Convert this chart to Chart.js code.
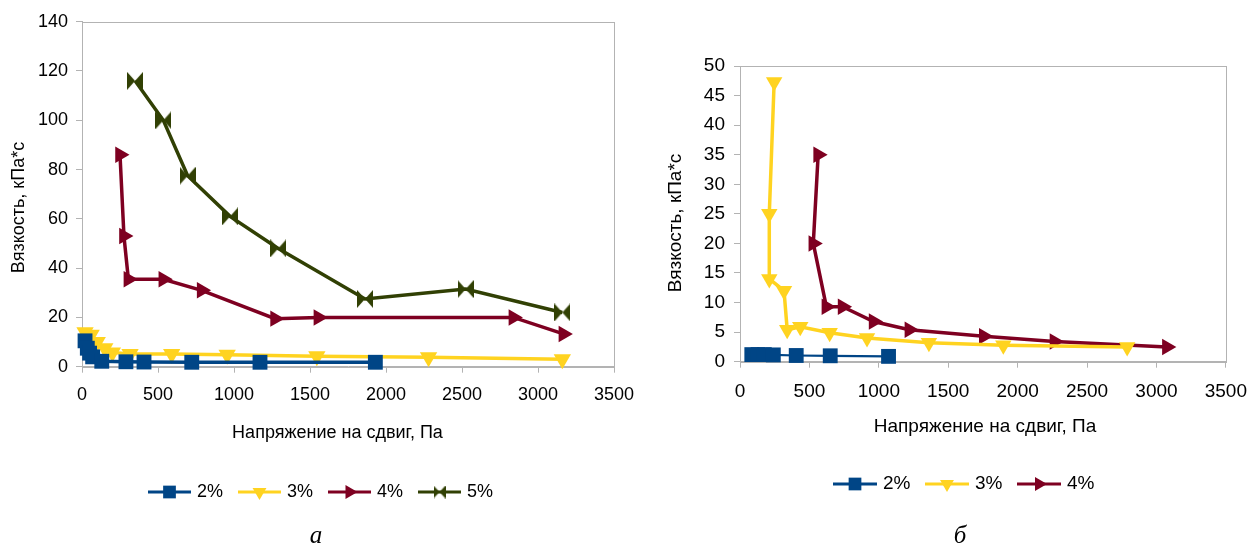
<!DOCTYPE html>
<html><head><meta charset="utf-8">
<script src="https://cdn.jsdelivr.net/npm/chart.js@4.4.1/dist/chart.umd.min.js"></script>
<style>
html,body{margin:0;padding:0;background:#fff;}
#wrap{position:relative;width:1260px;height:544px;overflow:hidden;background:#fff;}
canvas{position:absolute;top:0;}
</style></head><body>
<div id="wrap">
<canvas id="ca" width="650" height="544" style="left:0"></canvas>
<canvas id="cb" width="610" height="544" style="left:650px"></canvas>
</div>
<script>
// ---------- data ----------
const seriesLabels = ['2%', '3%', '4%', '5%'];
const xTickValues = [0, 500, 1000, 1500, 2000, 2500, 3000, 3500];
const yTickValuesA = [0, 20, 40, 60, 80, 100, 120, 140];
const yTickValuesB = [0, 5, 10, 15, 20, 25, 30, 35, 40, 45, 50];
const xTitle = 'Напряжение на сдвиг, Па';
const yTitle = 'Вязкость, кПа*с';
const captionA = 'а';
const captionB = 'б';

// chart а
const a2x = [20, 35, 50, 70, 130, 289, 408, 722, 1171, 1930];
const a2y = [10.5, 7.5, 5.5, 4.0, 2.2, 2.0, 1.9, 1.8, 1.8, 1.8];
const a3x = [20, 60, 100, 150, 200, 316, 590, 955, 1545, 2280, 3160];
const a3y = [14, 13, 10, 7.5, 5.8, 5.2, 5.2, 4.8, 4.2, 3.8, 3.0];
const a4x = [250, 276, 305, 535, 787, 1270, 1555, 2838, 3167];
const a4y = [86, 53, 35.5, 35.5, 31, 19.5, 20, 20, 13.3];
const a5x = [349, 535, 695, 974, 1291, 1862, 2524, 3160];
const a5y = [116, 100, 77.5, 61, 48, 27.5, 31.5, 22];

// chart б
const b2x = [85, 130, 175, 240, 405, 650, 1070];
const b2y = [1.2, 1.2, 1.2, 1.15, 1.05, 1.0, 0.9];
const b3x = [246, 211, 211, 317, 340, 434, 646, 915, 1361, 1897, 2789];
const b3y = [47.3, 25, 14, 12, 5.4, 5.9, 4.9, 4.0, 3.2, 2.8, 2.5];
const b4x = [563, 528, 622, 739, 962, 1220, 1756, 2265, 3075];
const b4y = [35, 20, 9.3, 9.3, 6.8, 5.4, 4.3, 3.4, 2.5];

// ---------- styles ----------
const COLORS = ['#004586', '#ffd320', '#7e0021', '#314004'];
const AXIS = '#b3b3b3';
const FONT = '"Liberation Sans", Arial, sans-serif';

function pts(xs, ys) { return xs.map((x, i) => ({ x: x, y: ys[i] })); }

function bowtie(color, w, h) {
  const c = document.createElement('canvas');
  c.width = w; c.height = h;
  const g = c.getContext('2d');
  g.fillStyle = color;
  g.beginPath();
  g.moveTo(0, 0); g.lineTo(w / 2, h / 2); g.lineTo(0, h); g.closePath();
  g.moveTo(w, 0); g.lineTo(w / 2, h / 2); g.lineTo(w, h); g.closePath();
  g.fill();
  return c;
}

const markerDefs = [
  { style: 'rect', rotation: 0, r: 10.5, lr: 9 },
  { style: 'triangle', rotation: 180, r: 10, lr: 8 },
  { style: 'triangle', rotation: 90, r: 9.5, lr: 8 },
  { style: 'bowtie', rotation: 0, r: 9, lr: 7 }
];

function makeDataset(i, xs, ys, lw, scale) {
  const m = markerDefs[i];
  const ps = m.style === 'bowtie' ? bowtie(COLORS[i], 16, 18) : m.style;
  return {
    label: seriesLabels[i],
    data: pts(xs, ys),
    showLine: true,
    borderColor: COLORS[i],
    backgroundColor: COLORS[i],
    borderWidth: lw,
    tension: 0,
    pointStyle: ps,
    pointRotation: m.rotation,
    pointRadius: m.r * scale,
    pointBorderWidth: 0,
    pointBackgroundColor: COLORS[i],
    pointBorderColor: COLORS[i],
    clip: false
  };
}

// plot frame
const framePlugin = {
  id: 'frame',
  beforeDatasetsDraw(chart) {
    const a = chart.chartArea, ctx = chart.ctx;
    ctx.save();
    ctx.strokeStyle = AXIS; ctx.lineWidth = 1;
    ctx.strokeRect(Math.round(a.left) + 0.5, Math.round(a.top) + 0.5,
      Math.round(a.right - a.left), Math.round(a.bottom - a.top));
    ctx.restore();
  }
};

// titles, legend, caption
const decorPlugin = {
  id: 'decor',
  afterDraw(chart, args, o) {
    const ctx = chart.ctx;
    ctx.save();
    ctx.fillStyle = '#000';
    ctx.font = o.fontSize + 'px ' + FONT;
    ctx.textAlign = 'center';
    ctx.textBaseline = 'middle';
    ctx.fillText(xTitle, o.xTitle.x, o.xTitle.y);
    ctx.save();
    ctx.translate(o.yTitle.x, o.yTitle.y);
    ctx.rotate(-Math.PI / 2);
    ctx.fillText(yTitle, 0, 0);
    ctx.restore();
    // legend
    chart.data.datasets.forEach((ds, i) => {
      const x0 = o.legend.x + i * o.legend.step, y = o.legend.y;
      ctx.strokeStyle = ds.borderColor;
      ctx.lineWidth = 3;
      ctx.beginPath(); ctx.moveTo(x0, y); ctx.lineTo(x0 + o.legend.len, y); ctx.stroke();
      const m = markerDefs[i];
      const cx = x0 + o.legend.len / 2;
      ctx.fillStyle = ds.borderColor;
      ctx.strokeStyle = ds.borderColor;
      if (m.style === 'bowtie') {
        const c = bowtie(COLORS[i], 12, 13);
        ctx.drawImage(c, cx - 6, y - 6.5);
      } else {
        Chart.helpers.drawPoint(ctx, { pointStyle: m.style, rotation: m.rotation, radius: m.lr, borderWidth: 0 }, cx, y);
      }
      ctx.fillStyle = '#000';
      ctx.textAlign = 'left';
      ctx.fillText(ds.label, x0 + o.legend.len + 6, y);
    });
    // caption
    ctx.textAlign = 'center';
    ctx.textBaseline = 'alphabetic';
    ctx.font = 'italic ' + o.caption.size + 'px "Liberation Serif", "Times New Roman", serif';
    ctx.fillText(o.caption.text, o.caption.x, o.caption.y);
    ctx.restore();
  }
};

function makeChart(id, datasets, cfg) {
  return new Chart(document.getElementById(id), {
    type: 'scatter',
    data: { datasets: datasets },
    plugins: [framePlugin, decorPlugin],
    options: {
      responsive: false,
      animation: false,
      devicePixelRatio: 1,
      layout: { padding: cfg.padding },
      plugins: {
        legend: { display: false },
        tooltip: { enabled: false },
        decor: cfg.decor
      },
      scales: {
        x: {
          type: 'linear', min: 0, max: 3500,
          afterBuildTicks: s => { s.ticks = xTickValues.map(v => ({ value: v })); },
          afterFit: s => { s.height = cfg.xHeight; },
          grid: { drawOnChartArea: false, drawTicks: true, tickLength: 6, color: AXIS },
          border: { color: AXIS },
          ticks: { color: '#000', font: { family: FONT, size: cfg.fontSize }, padding: cfg.xPad, maxRotation: 0, autoSkip: false,
                   callback: v => String(v) }
        },
        y: {
          type: 'linear', min: 0, max: cfg.yMax,
          afterBuildTicks: s => { s.ticks = cfg.yTicks.map(v => ({ value: v })); },
          afterFit: s => { s.width = cfg.yWidth; },
          grid: { drawOnChartArea: false, drawTicks: true, tickLength: 6, color: AXIS },
          border: { color: AXIS },
          ticks: { color: '#000', font: { family: FONT, size: cfg.fontSize }, padding: cfg.yPad, autoSkip: false,
                   callback: v => String(v) }
        }
      }
    }
  });
}

// chart а : plot area x 82..614, y 21.7..366.7
makeChart('ca', [
  makeDataset(0, a2x, a2y, 3.5, 1),
  makeDataset(1, a3x, a3y, 3.5, 1),
  makeDataset(2, a4x, a4y, 3.5, 1),
  makeDataset(3, a5x, a5y, 3.5, 1)
], {
  padding: { left: 0, right: 36, top: 21.7, bottom: 544 - 366.7 - 40 },
  xHeight: 40, yWidth: 82, yMax: 140, yTicks: yTickValuesA,
  fontSize: 18, xPad: 12, yPad: 8,
  decor: {
    fontSize: 18,
    xTitle: { x: 337.5, y: 433 },
    yTitle: { x: 19, y: 207.5 },
    legend: { x: 148, y: 492, step: 90, len: 43 },
    caption: { text: captionA, x: 316, y: 543, size: 25 }
  }
});

// chart б : plot area (page) x 740..1238, y 66..361.7 ; canvas offset 650
makeChart('cb', [
  makeDataset(0, b2x, b2y, 2.2, 1),
  makeDataset(1, b3x, b3y, 3.5, 0.95),
  makeDataset(2, b4x, b4y, 3.5, 1)
], {
  padding: { left: 0, right: 22, top: 66, bottom: 544 - 361.7 - 40 },
  xHeight: 40, yWidth: 90, yMax: 50, yTicks: yTickValuesB,
  fontSize: 19, xPad: 13, yPad: 9,
  decor: {
    fontSize: 19,
    xTitle: { x: 335, y: 426.5 },
    yTitle: { x: 26, y: 223 },
    legend: { x: 183, y: 484, step: 92, len: 44 },
    caption: { text: captionB, x: 310, y: 543, size: 25 }
  }
});
</script>
</body></html>
